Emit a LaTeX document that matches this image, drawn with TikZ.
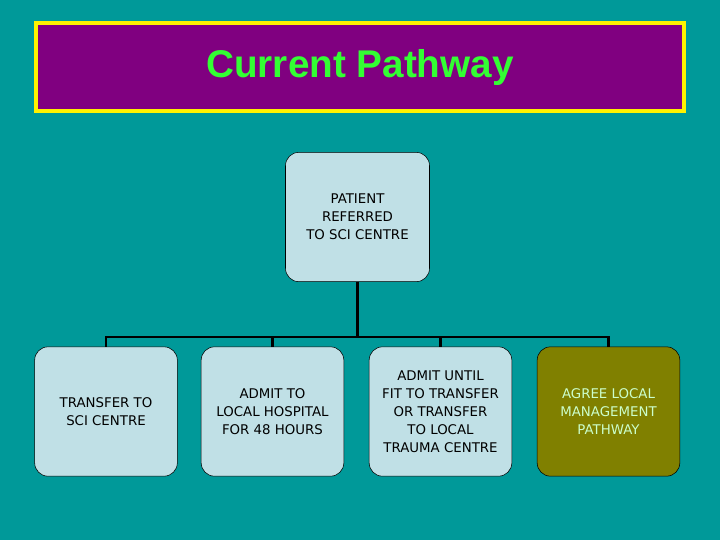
\documentclass[tikz,border=0pt]{standalone}
\usepackage{fontspec}
\setmainfont{DejaVu Sans}
\newfontfamily\titlefont{Liberation Sans}
\usetikzlibrary{positioning}
\definecolor{teal bg}{RGB}{0,153,153}
\definecolor{box blue}{RGB}{192,224,230}
\definecolor{title purple}{RGB}{128,0,128}
\definecolor{title green}{RGB}{51,255,51}
\definecolor{olive box}{RGB}{128,128,0}
\definecolor{pale green}{RGB}{204,255,204}
\begin{document}
\begin{tikzpicture}[x=0.75pt, y=-0.75pt]

  \tikzstyle{stage}=[rounded corners=10pt, draw, thin, fill=box blue, align=center,
    minimum width=107pt, minimum height=97pt, inner sep=1pt,
    font=\fontsize{10}{13.5}\selectfont]
  \tikzstyle{link}=[line width=2.2pt]

  \fill [teal bg] (0,0) rectangle (720,540);
  \useasboundingbox (0,0) rectangle (720,540);

  \node [draw=yellow, line width=3pt, fill=title purple, minimum width=486pt,
    minimum height=66pt, text=title green, font=\titlefont\bfseries\fontsize{29}{32}\selectfont]
    (title) at (360,67) {Current Pathway};

  \node [stage, minimum width=108pt] (patient) at (357.5,217) {PATIENT\\REFERRED\\TO SCI CENTRE};

  \node [stage] (transfer) at (106,411.5) {TRANSFER TO\\SCI CENTRE};
  \node [stage] (admit) at (272.5,411.5) {ADMIT TO\\LOCAL HOSPITAL\\FOR 48 HOURS};
  \node [stage] (until) at (440.5,411.5) {ADMIT UNTIL\\FIT TO TRANSFER\\OR TRANSFER\\TO LOCAL\\TRAUMA CENTRE};
  \node [stage, fill=olive box, text=pale green] (agree) at (608.5,411.5) {AGREE LOCAL\\MANAGEMENT\\PATHWAY};

  \coordinate (bus) at (357.5,337);

  \draw [link] (patient) -- (bus);
  \draw [link] (transfer.north) |- (bus) -| (agree.north);
  \draw [link] (admit.north) -- (admit.north |- bus);
  \draw [link] (until.north) -- (until.north |- bus);
\end{tikzpicture}
\end{document}
